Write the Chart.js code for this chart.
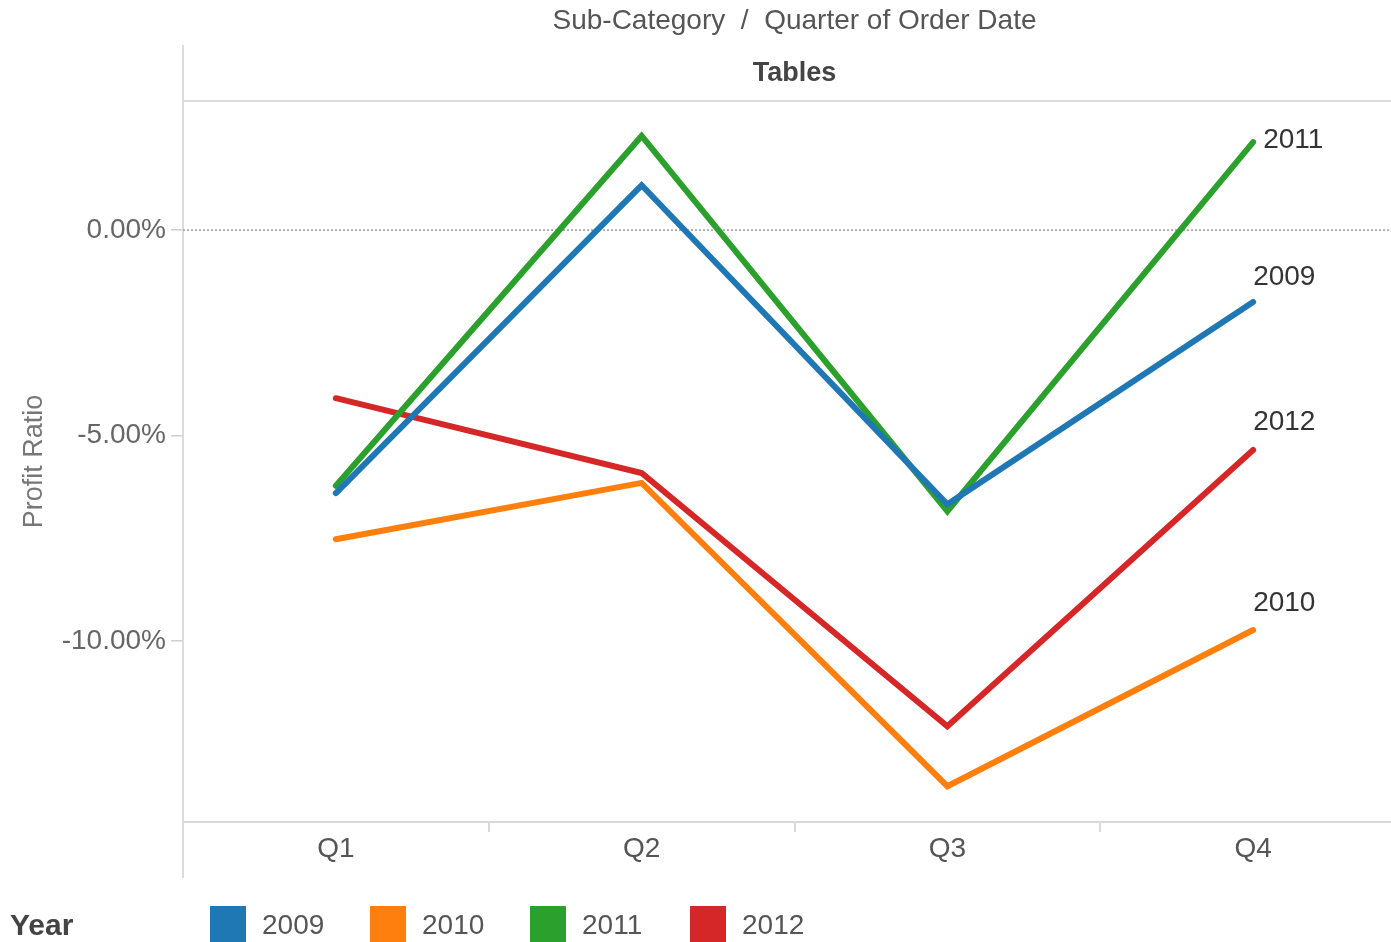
<!DOCTYPE html>
<html>
<head>
<meta charset="utf-8">
<script src="https://cdn.jsdelivr.net/npm/chart.js@4.4.0/dist/chart.umd.min.js"></script>
<style>
  body { margin: 0; width: 1391px; height: 942px; overflow: hidden; background: #fff;
         font-family: "Liberation Sans", Arial, sans-serif; }
  #wrap { position: absolute; left: 0; top: 0; width: 1410px; height: 942px; }
  #legend { position: absolute; left: 0; top: 905px; height: 40px; display: flex; align-items: center; }
  #legend .ttl { width: 210px; padding-left: 10px; box-sizing: border-box; font-weight: bold;
                 font-size: 30px; color: #444; }
  #legend .item { width: 160px; display: flex; align-items: center; font-size: 28px; color: #555; }
  #legend .sw { width: 36px; height: 38px; margin-right: 16px; }
</style>
</head>
<body>
<div id="wrap"><canvas id="chart" width="1410" height="942"></canvas></div>
<div id="legend"><div class="ttl">Year</div></div>
<script>
const quarters = ['Q1', 'Q2', 'Q3', 'Q4'];
const years = ['2009', '2010', '2011', '2012'];
const ratio2009 = [-6.40, 1.09, -6.67, -1.75];
const ratio2010 = [-7.52, -6.15, -13.53, -9.73];
const ratio2011 = [-6.22, 2.29, -6.84, 2.14];
const ratio2012 = [-4.09, -5.91, -12.07, -5.35];
const yTicks = [-10, -5, 0];
const colors = ['#1f77b4', '#ff7f0e', '#2ca02c', '#d62728'];
const series = [ratio2009, ratio2010, ratio2011, ratio2012];
// where each end label sits relative to the Q4 point
const labelOffsets = [[0, -25], [0, -27], [10, -2], [0, -28]];

const FONT = '"Liberation Sans", Arial, sans-serif';

const legend = document.getElementById('legend');
years.forEach((y, i) => {
  const el = document.createElement('div');
  el.className = 'item';
  el.innerHTML = `<div class="sw" style="background:${colors[i]}"></div><span>${y}</span>`;
  legend.appendChild(el);
});

const decor = {
  id: 'decor',
  beforeDatasetsDraw(chart) {
    const { ctx, chartArea: a, scales } = chart;
    const cx = (a.left + a.right) / 2;
    ctx.save();
    ctx.fillStyle = '#555';
    ctx.textAlign = 'center';
    ctx.textBaseline = 'middle';
    ctx.font = `28px ${FONT}`;
    ctx.fillText('Sub-Category  /  Quarter of Order Date', cx, 21);
    ctx.font = `bold 27px ${FONT}`;
    ctx.fillStyle = '#444';
    ctx.fillText('Tables', cx, 74);

    ctx.strokeStyle = '#dcdcdc';
    ctx.lineWidth = 2;
    ctx.beginPath();
    ctx.moveTo(a.left, 101); ctx.lineTo(a.right, 101);
    ctx.moveTo(a.left, 45); ctx.lineTo(a.left, 878);
    ctx.stroke();

    const y0 = scales.y.getPixelForValue(0);
    ctx.strokeStyle = '#9a9a9a';
    ctx.lineWidth = 1.5;
    ctx.setLineDash([2, 2]);
    ctx.beginPath();
    ctx.moveTo(a.left, y0); ctx.lineTo(a.right, y0);
    ctx.stroke();
    ctx.restore();
  },
  afterDatasetsDraw(chart) {
    const { ctx } = chart;
    ctx.save();
    ctx.font = `28px ${FONT}`;
    ctx.fillStyle = '#333';
    ctx.textAlign = 'left';
    ctx.textBaseline = 'middle';
    chart.data.datasets.forEach((ds, i) => {
      const pts = chart.getDatasetMeta(i).data;
      const p = pts[pts.length - 1];
      ctx.fillText(ds.label, p.x + labelOffsets[i][0], p.y + labelOffsets[i][1]);
    });
    ctx.restore();
  }
};

new Chart(document.getElementById('chart'), {
  type: 'line',
  data: {
    labels: quarters,
    datasets: years.map((y, i) => ({
      label: y,
      data: series[i],
      borderColor: colors[i],
      backgroundColor: colors[i],
      borderWidth: 6,
      borderCapStyle: 'round',
      borderJoinStyle: 'miter',
      pointRadius: 0,
      tension: 0,
      fill: false
    }))
  },
  options: {
    responsive: false,
    animation: false,
    devicePixelRatio: 1,
    layout: { padding: { top: 101, right: 4, left: 0, bottom: 0 } },
    plugins: { legend: { display: false }, tooltip: { enabled: false } },
    scales: {
      x: {
        offset: true,
        afterFit: s => { s.height = 120; },
        grid: { offset: true, drawOnChartArea: false, tickLength: 10, color: '#d9d9d9', lineWidth: 2 },
        border: { display: true, color: '#d9d9d9', width: 2 },
        ticks: { color: '#555', padding: 0, font: { family: FONT, size: 28 } }
      },
      y: {
        min: -14.4,
        max: 3.14,
        afterFit: s => { s.width = 183; },
        afterBuildTicks: s => { s.ticks = yTicks.map(v => ({ value: v })); },
        grid: { drawOnChartArea: false, tickLength: 12, color: '#cfcfcf', lineWidth: 1.5 },
        border: { display: false },
        ticks: {
          color: '#666',
          padding: 5,
          font: { family: FONT, size: 28 },
          callback: v => v.toFixed(2) + '%'
        },
        title: {
          display: true,
          text: 'Profit Ratio',
          color: '#777',
          font: { family: FONT, size: 27 },
          padding: { top: 18, bottom: 0 }
        }
      }
    }
  },
  plugins: [decor]
});
</script>
</body>
</html>
